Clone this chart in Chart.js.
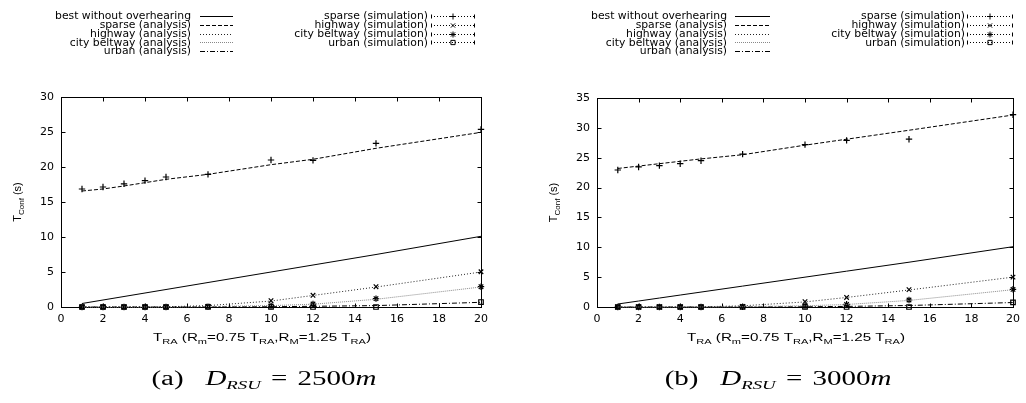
<!DOCTYPE html>
<html><head><meta charset="utf-8">
<script src="https://cdn.jsdelivr.net/npm/chart.js@4.4.0/dist/chart.umd.min.js"></script>
<style>
html,body{margin:0;padding:0;background:#fff;}
#wrap{position:relative;width:1026px;height:403px;overflow:hidden;background:#fff;}
.cv{position:absolute;top:0;width:513px;height:403px;}
.cap{position:absolute;top:366px;line-height:24px;transform:translateX(-50%) scaleX(1.45);font-family:"Liberation Serif","DejaVu Serif",serif;font-size:20px;color:#000;white-space:nowrap;}
.cap .lab{margin-right:15px;}
.cap sub{font-size:13px;vertical-align:-4px;line-height:0;}
.cap .eq{margin:0 7px;}
</style></head><body>
<div id="wrap">
<div class="cv" style="left:0"><canvas id="ca" width="513" height="403"></canvas></div>
<div class="cv" style="left:513px"><canvas id="cb" width="513" height="403"></canvas></div>
<div class="cap" style="left:264px"><span class="lab">(a)</span><i>D</i><sub><i>RSU</i></sub><span class="eq">=</span>2500<i>m</i></div>
<div class="cap" style="left:778px"><span class="lab">(b)</span><i>D</i><sub><i>RSU</i></sub><span class="eq">=</span>3000<i>m</i></div>
</div>
<script>
// ---------- data ----------
const tRA = [1, 2, 3, 4, 5, 7, 10, 12, 15, 20];
const seriesNames = [
  'best without overhearing', 'sparse (analysis)', 'highway (analysis)',
  'city beltway (analysis)', 'urban (analysis)',
  'sparse (simulation)', 'highway (simulation)', 'city beltway (simulation)', 'urban (simulation)'
];
const xTicks = [0, 2, 4, 6, 8, 10, 12, 14, 16, 18, 20];
const yTicksA = [0, 5, 10, 15, 20, 25, 30];
const yTicksB = [0, 5, 10, 15, 20, 25, 30, 35];

// (a) D_RSU = 2500m
const aBest       = [0.5, 1.0, 1.5, 2.0, 2.5, 3.5, 5.0, 6.0, 7.5, 10.1];
const aSparseAna  = [16.57, 16.86, 17.29, 17.76, 18.24, 18.95, 20.33, 21.1, 22.67, 24.95];
const aHighwayAna = [0, 0, 0, 0.01, 0.03, 0.2, 0.85, 1.65, 2.85, 5.0];
const aCityAna    = [0, 0, 0, 0, 0.01, 0.06, 0.2, 0.4, 1.1, 2.86];
const aUrbanAna   = [0, 0, 0, 0, 0, 0.01, 0.04, 0.1, 0.2, 0.67];
const aSparseSim  = [16.86, 17.14, 17.6, 18.05, 18.57, 18.95, 21.0, 20.95, 23.38, 25.38];
const aHighwaySim = [0, 0, 0, 0, 0, 0.1, 0.9, 1.67, 2.9, 5.04];
const aCitySim    = [0, 0, 0, 0, 0, 0.05, 0.15, 0.43, 1.19, 2.9];
const aUrbanSim   = [0, 0, 0, 0, 0, 0, 0, 0, 0, 0.71];

// (b) D_RSU = 3000m
const bBest       = [0.5, 1.0, 1.5, 2.0, 2.5, 3.5, 5.0, 6.0, 7.5, 10.1];
const bSparseAna  = [23.2, 23.6, 24.0, 24.4, 24.8, 25.5, 27.1, 28.1, 29.6, 32.15];
const bHighwayAna = [0, 0, 0, 0.01, 0.03, 0.2, 0.85, 1.6, 2.85, 5.0];
const bCityAna    = [0, 0, 0, 0, 0.01, 0.06, 0.2, 0.42, 1.1, 2.9];
const bUrbanAna   = [0, 0, 0, 0, 0, 0.01, 0.04, 0.1, 0.25, 0.75];
const bSparseSim  = [22.94, 23.45, 23.67, 24.0, 24.5, 25.6, 27.2, 27.9, 28.1, 32.2];
const bHighwaySim = [0, 0, 0, 0, 0, 0.1, 0.9, 1.6, 2.9, 5.0];
const bCitySim    = [0, 0, 0, 0, 0, 0.05, 0.15, 0.45, 1.17, 2.96];
const bUrbanSim   = [0, 0, 0, 0, 0, 0, 0, 0, 0, 0.78];

// ---------- styles ----------
const lineStyles = [
  {color: '#000', dash: []},
  {color: '#000', dash: [4, 2]},
  {color: '#222', dash: [1, 2]},
  {color: '#888', dash: [1, 1]},
  {color: '#000', dash: [5, 2, 1, 2]}
];
const markerStyles = ['cross', 'crossRot', 'star', 'rect'];

function pairs(vals) { return tRA.map((x, i) => ({x: x, y: vals[i]})); }

function buildDatasets(ana, sim) {
  const ds = [];
  ana.forEach((vals, i) => ds.push({
    label: seriesNames[i], data: pairs(vals), borderColor: lineStyles[i].color,
    borderDash: lineStyles[i].dash, borderWidth: 1, pointRadius: 0, fill: false,
    tension: 0, clip: false, _kind: 'line', _style: i
  }));
  sim.forEach((vals, i) => ds.push({
    label: seriesNames[5 + i], data: pairs(vals), showLine: false,
    borderColor: '#000', backgroundColor: 'rgba(0,0,0,0)', borderWidth: 1.2,
    pointStyle: markerStyles[i], pointRadius: 3.2, pointHoverRadius: 3.2, clip: false,
    _kind: 'sim', _style: i
  }));
  return ds;
}

// rich text helper: segments [{t, sub}]
function richWidth(ctx, segs, font, subFont) {
  let w = 0;
  segs.forEach(s => { ctx.font = s.sub ? subFont : font; w += ctx.measureText(s.t).width; });
  return w;
}
function drawRich(ctx, segs, x, y, font, subFont, subShift) {
  let cx = x;
  segs.forEach(s => {
    ctx.font = s.sub ? subFont : font;
    ctx.fillText(s.t, cx, s.sub ? y + subShift : y);
    cx += ctx.measureText(s.t).width;
  });
}

const frameTicks = {
  id: 'frameTicks',
  beforeDatasetsDraw(chart) {
    const ctx = chart.ctx, a = chart.chartArea;
    const xs = chart.scales.x, ys = chart.scales.y;
    const L = Math.round(a.left) + 0.5, R = Math.round(a.right) + 0.5;
    const T = Math.round(a.top) + 0.5, B = Math.round(a.bottom) + 0.5;
    ctx.save();
    ctx.strokeStyle = '#000'; ctx.lineWidth = 1; ctx.setLineDash([]);
    ctx.beginPath();
    xs.ticks.forEach(t => {
      const px = Math.round(xs.getPixelForValue(t.value)) + 0.5;
      if (t.value === xs.min || t.value === xs.max) return;
      ctx.moveTo(px, B); ctx.lineTo(px, B - 4);
      ctx.moveTo(px, T); ctx.lineTo(px, T + 4);
    });
    ys.ticks.forEach(t => {
      const py = Math.round(ys.getPixelForValue(t.value)) + 0.5;
      if (t.value === ys.min || t.value === ys.max) return;
      ctx.moveTo(L, py); ctx.lineTo(L + 4, py);
      ctx.moveTo(R, py); ctx.lineTo(R - 4, py);
    });
    ctx.stroke();
    ctx.strokeRect(L, T, R - L, B - T);
    ctx.restore();
  }
};

const axisTitles = {
  id: 'axisTitles',
  afterDraw(chart, args, opts) {
    const ctx = chart.ctx, a = chart.chartArea;
    ctx.save();
    ctx.fillStyle = '#000';
    ctx.textBaseline = 'alphabetic';
    // y title
    const ySegs = [{t: 'T'}, {t: 'Conf', sub: true}, {t: ' (s)'}];
    const yf = '11px "Liberation Sans", Arial, sans-serif', ysf = '8px "Liberation Sans", Arial, sans-serif';
    const yw = richWidth(ctx, ySegs, yf, ysf);
    ctx.translate(opts.yTitleX, (a.top + a.bottom) / 2);
    ctx.rotate(-Math.PI / 2);
    drawRich(ctx, ySegs, -yw / 2, 4, yf, ysf, 3);
    ctx.restore();
    // x title (horizontally stretched like the reference)
    ctx.save();
    ctx.fillStyle = '#000';
    const xSegs = [{t: 'T'}, {t: 'RA', sub: true}, {t: ' (R'}, {t: 'm', sub: true}, {t: '=0.75 T'},
      {t: 'RA', sub: true}, {t: ',R'}, {t: 'M', sub: true}, {t: '=1.25 T'}, {t: 'RA', sub: true}, {t: ')'}];
    const xf = '11px "Liberation Sans", Arial, sans-serif', xsf = '8px "Liberation Sans", Arial, sans-serif';
    const xw = richWidth(ctx, xSegs, xf, xsf);
    const sx = 1.38;
    ctx.translate((a.left + a.right) / 2 - 9, opts.xTitleY);
    ctx.scale(sx, 1);
    drawRich(ctx, xSegs, -xw / 2, 0, xf, xsf, 3);
    ctx.restore();
  }
};

const gpLegend = {
  id: 'gpLegend',
  afterDraw(chart, args, opts) {
    const ctx = chart.ctx;
    const rows = [16, 24.75, 33.5, 42.25, 51];
    ctx.save();
    ctx.font = '10.8px "DejaVu Sans", sans-serif';
    ctx.fillStyle = '#000';
    ctx.textAlign = 'right';
    ctx.textBaseline = 'middle';
    chart.data.datasets.forEach((ds, i) => {
      const col = ds._kind === 'line' ? opts.col1 : opts.col2;
      const y = rows[ds._style];
      ctx.fillText(ds.label, col.textRight, y + 0.5);
      const yy = Math.round(y) + 0.5;
      ctx.save();
      ctx.lineWidth = 1;
      if (ds._kind === 'line') {
        ctx.strokeStyle = ds.borderColor;
        ctx.setLineDash(ds.borderDash);
        ctx.beginPath(); ctx.moveTo(col.s0, yy); ctx.lineTo(col.s1, yy); ctx.stroke();
      } else {
        ctx.strokeStyle = '#000';
        ctx.setLineDash([1, 2]);
        ctx.beginPath(); ctx.moveTo(col.s0, yy); ctx.lineTo(col.s1, yy); ctx.stroke();
        ctx.setLineDash([]);
        ctx.beginPath();
        ctx.moveTo(col.s0 + 0.5, yy - 2); ctx.lineTo(col.s0 + 0.5, yy + 2);
        ctx.moveTo(col.s1 - 0.5, yy - 2); ctx.lineTo(col.s1 - 0.5, yy + 2);
        ctx.stroke();
        ctx.fillStyle = 'rgba(0,0,0,0)';
        Chart.helpers.drawPoint(ctx, {pointStyle: ds.pointStyle, radius: 3, rotation: 0, borderWidth: 1},
          (col.s0 + col.s1) / 2, yy);
      }
      ctx.restore();
    });
    ctx.restore();
  }
};

function makeChart(id, ana, sim, yMax, yAxisWidth, padRight, top, legendOpts, yTitleX) {
  const tickFont = {family: '"DejaVu Sans", sans-serif', size: 11};
  return new Chart(document.getElementById(id), {
    type: 'line',
    data: {datasets: buildDatasets(ana, sim)},
    options: {
      responsive: false, animation: false, events: [],
      layout: {padding: {left: 0, right: padRight, top: top, bottom: 403 - 307 - 30}},
      plugins: {
        legend: {display: false}, tooltip: {enabled: false}, title: {display: false},
        gpLegend: legendOpts,
        axisTitles: {yTitleX: yTitleX, xTitleY: 341}
      },
      scales: {
        x: {
          type: 'linear', min: 0, max: 20,
          grid: {display: false, drawTicks: false}, border: {display: false},
          ticks: {stepSize: 2, color: '#000', font: tickFont, padding: 6, maxRotation: 0},
          afterBuildTicks: s => { s.ticks = xTicks.map(v => ({value: v})); },
          afterFit: s => { s.height = 30; }
        },
        y: {
          type: 'linear', min: 0, max: yMax,
          grid: {display: false, drawTicks: false}, border: {display: false},
          ticks: {stepSize: 5, color: '#000', font: tickFont, padding: 7},
          afterBuildTicks: s => { s.ticks = (yMax === 30 ? yTicksA : yTicksB).map(v => ({value: v})); },
          afterFit: s => { s.width = yAxisWidth; }
        }
      }
    },
    plugins: [frameTicks, axisTitles, gpLegend]
  });
}

makeChart('ca',
  [aBest, aSparseAna, aHighwayAna, aCityAna, aUrbanAna],
  [aSparseSim, aHighwaySim, aCitySim, aUrbanSim],
  30, 61, 32, 97,
  {col1: {textRight: 191, s0: 200, s1: 233}, col2: {textRight: 428, s0: 431, s1: 475}}, 17);

makeChart('cb',
  [bBest, bSparseAna, bHighwayAna, bCityAna, bUrbanAna],
  [bSparseSim, bHighwaySim, bCitySim, bUrbanSim],
  35, 84, 8.5, 98,
  {col1: {textRight: 214, s0: 222, s1: 257}, col2: {textRight: 452, s0: 454, s1: 500}}, 40);
</script>
</body></html>
